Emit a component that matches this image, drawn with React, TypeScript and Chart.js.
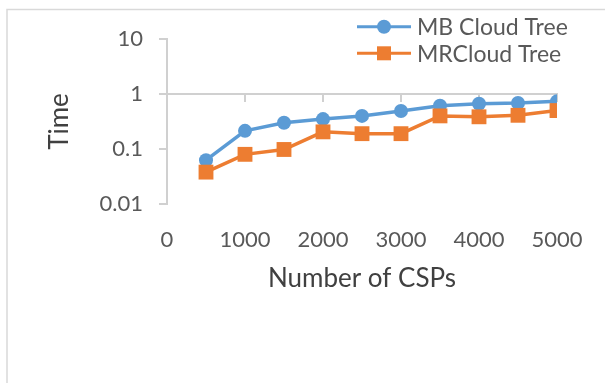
import React, { useEffect, useRef } from 'react';
import { Chart, registerables } from 'chart.js';

Chart.register(...registerables);

// ---- data ----
const csps = [500, 1000, 1500, 2000, 2500, 3000, 3500, 4000, 4500, 5000];
const mbCloudTree = [0.0625, 0.214, 0.30, 0.35, 0.40, 0.49, 0.61, 0.665, 0.685, 0.735];
const mrCloudTree = [0.038, 0.080, 0.098, 0.205, 0.19, 0.19, 0.40, 0.385, 0.41, 0.50];
const seriesNames = ['MB Cloud Tree', 'MRCloud Tree'];
const yTickValues = [0.01, 0.1, 1, 10];
const xMin = 0;
const xMax = 5000;
const xStep = 1000;
const xTitle = 'Number of CSPs';
const yTitle = 'Time';

const BLUE = '#5B9BD5';
const ORANGE = '#ED7D31';
const AXIS = '#d0d0d0';
const TICK_TEXT = '#595959';
const TITLE_TEXT = '#404040';
const FONT = 'Lato, "Open Sans", sans-serif';

const decorPlugin = {
  id: 'decor',
  beforeDraw(chart: any) {
    const ctx = chart.ctx;
    ctx.save();
    ctx.fillStyle = '#ffffff';
    ctx.fillRect(0, 0, chart.width, chart.height);
    ctx.strokeStyle = '#d9d9d9';
    ctx.lineWidth = 1.5;
    ctx.beginPath();
    ctx.moveTo(7, chart.height);
    ctx.lineTo(7, 9.5);
    ctx.lineTo(chart.width, 9.5);
    ctx.stroke();
    ctx.restore();
  },
  afterDraw(chart: any) {
    const ctx = chart.ctx;
    const datasets = chart.data.datasets;
    const rows = [26.7, 53.3];
    ctx.save();
    datasets.forEach((ds: any, i: number) => {
      const y = rows[i];
      ctx.strokeStyle = ds.borderColor;
      ctx.lineWidth = 3;
      ctx.beginPath();
      ctx.moveTo(357, y);
      ctx.lineTo(411, y);
      ctx.stroke();
      ctx.fillStyle = ds.backgroundColor;
      if (ds.pointStyle === 'rect') {
        ctx.fillRect(384 - 7, y - 7, 14, 14);
      } else {
        ctx.beginPath();
        ctx.arc(384, y, 7, 0, Math.PI * 2);
        ctx.fill();
      }
      ctx.fillStyle = TICK_TEXT;
      ctx.font = `23px ${FONT}`;
      ctx.textAlign = 'left';
      ctx.textBaseline = 'middle';
      ctx.fillText(ds.label, 417, y + 1);
    });
    ctx.restore();
  },
};

export default function App() {
  const canvasRef = useRef<HTMLCanvasElement | null>(null);

  useEffect(() => {
    if (!canvasRef.current) return;
    const chart = new Chart(canvasRef.current, {
      type: 'line',
      data: {
        datasets: [
          {
            label: seriesNames[0],
            data: csps.map((x, i) => ({ x, y: mbCloudTree[i] })),
            borderColor: BLUE,
            backgroundColor: BLUE,
            borderWidth: 3.5,
            pointStyle: 'circle',
            pointRadius: 7,
            pointBorderWidth: 0,
            pointBackgroundColor: BLUE,
            order: 1,
          },
          {
            label: seriesNames[1],
            data: csps.map((x, i) => ({ x, y: mrCloudTree[i] })),
            borderColor: ORANGE,
            backgroundColor: ORANGE,
            borderWidth: 3.5,
            pointStyle: 'rect',
            pointRadius: 10.5,
            pointBorderWidth: 0,
            pointBackgroundColor: ORANGE,
            order: 0,
          },
        ],
      },
      options: {
        animation: false,
        responsive: false,
        maintainAspectRatio: false,
        layout: { padding: { top: 39, right: 48, left: 0, bottom: 0 } },
        plugins: {
          legend: { display: false },
          tooltip: { enabled: false },
        },
        scales: {
          x: {
            type: 'linear',
            position: 'bottom',
            min: xMin,
            max: xMax,
            ticks: {
              stepSize: xStep,
              color: TICK_TEXT,
              font: { family: FONT, size: 22 },
              padding: 15,
              maxRotation: 0,
              callback: (v: any) => String(v),
            },
            grid: { display: false },
            border: { display: false },
            title: {
              display: true,
              text: xTitle,
              color: TITLE_TEXT,
              font: { family: FONT, size: 26 },
              padding: { top: 0, bottom: 89 },
            },
            afterFit(scale: any) {
              scale.height = 383 - 204;
            },
          },
          xAxisLine: {
            type: 'linear',
            position: { y: 1 },
            min: xMin,
            max: xMax,
            ticks: { stepSize: xStep, display: false },
            grid: {
              drawOnChartArea: false,
              drawTicks: true,
              tickLength: 7,
              color: AXIS,
              lineWidth: 2,
            },
            border: { display: true, color: AXIS, width: 2 },
          },
          y: {
            type: 'logarithmic',
            position: 'left',
            min: yTickValues[0],
            max: yTickValues[yTickValues.length - 1],
            afterBuildTicks(scale: any) {
              scale.ticks = yTickValues.map((v) => ({ value: v }));
            },
            ticks: {
              color: TICK_TEXT,
              font: { family: FONT, size: 22 },
              padding: 16,
              callback: (v: any) => String(v),
            },
            grid: {
              drawOnChartArea: false,
              drawTicks: true,
              tickLength: 8,
              color: AXIS,
              lineWidth: 2,
            },
            border: { display: true, color: AXIS, width: 2 },
            title: {
              display: true,
              text: yTitle,
              color: TITLE_TEXT,
              font: { family: FONT, size: 26 },
              padding: { top: 44, bottom: 0 },
            },
            afterFit(scale: any) {
              scale.width = 167;
            },
          },
        },
      },
      plugins: [decorPlugin],
    } as any);
    return () => chart.destroy();
  }, []);

  return (
    <div style={{ position: 'fixed', left: 0, top: 0, width: 605, height: 383, overflow: 'hidden', background: '#fff' }}>
      <canvas ref={canvasRef} width={605} height={383} style={{ width: 605, height: 383, display: 'block' }} />
    </div>
  );
}
